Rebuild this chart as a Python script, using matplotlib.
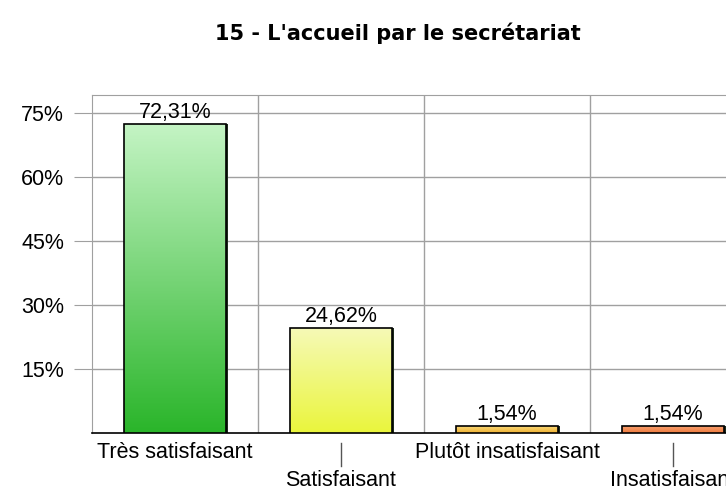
import numpy as np
import matplotlib.pyplot as plt
from matplotlib.colors import LinearSegmentedColormap
from matplotlib.patches import Rectangle

# data
categories = ['Très satisfaisant', 'Satisfaisant', 'Plutôt insatisfaisant', 'Insatisfaisant']
values = [72.31, 24.62, 1.54, 1.54]
labels = ['72,31%', '24,62%', '1,54%', '1,54%']
yticks = [15, 30, 45, 60, 75]
# gradient colours (top, bottom) for each bar
grad = [('#c4f4c4', '#2ab52a'), ('#f6fab8', '#eaf53c'),
        ('#f8d878', '#f0b030'), ('#f8a070', '#ee7a3c')]

W, H = 726, 492
FS = 15.5
fig = plt.figure(figsize=(W / 100, H / 100), dpi=100)
# plot area: x from 92 px, y from 95 to 433 px; right side runs off the figure
ax = fig.add_axes([92 / W, 1 - 433 / H, (756 - 92) / W, (433 - 95) / H])
ax.set_xlim(-0.5, 3.5)
ax.set_ylim(0, 79.2)

grid_c = '#a0a0a0'
for yv in yticks:
    ax.axhline(yv, color=grid_c, lw=1, zorder=0)
for xv in [0.5, 1.5, 2.5]:
    ax.axvline(xv, color=grid_c, lw=1, zorder=0)
for s in ['left', 'top', 'right']:
    ax.spines[s].set_color(grid_c)
ax.spines['bottom'].set_color('black')
ax.spines['bottom'].set_linewidth(1.2)

ax.set_yticks(yticks)
ax.set_yticklabels(['%d%%' % v for v in yticks], fontsize=FS, family='Liberation Sans')
ax.tick_params(axis='y', length=13, color=grid_c, pad=7)
ax.set_xticks([])

bw = 0.61
for i, (v, (ct, cb)) in enumerate(zip(values, grad)):
    cmap = LinearSegmentedColormap.from_list('g%d' % i, [cb, ct])
    x0 = i - bw / 2
    # dark shadow on the right side
    ax.add_patch(Rectangle((x0 + 0.012, 0), bw, v, facecolor='#1c2a1c', edgecolor='none', zorder=2))
    img = ax.imshow(np.linspace(0, 1, 256).reshape(-1, 1), cmap=cmap, origin='lower',
                    extent=[x0, x0 + bw, 0, v], aspect='auto', zorder=3)
    rect = Rectangle((x0, 0), bw, v, facecolor='none', edgecolor='black', lw=1.2, zorder=4)
    ax.add_patch(rect)
    img.set_clip_path(rect)
    ax.text(i, v + 0.3, labels[i], ha='center', va='bottom', fontsize=FS, family='Liberation Sans')

# category labels, alternating rows
for i, c in enumerate(categories):
    xf = ax.transData.transform((i, 0))[0] / W
    if i % 2 == 0:
        fig.text(xf, 1 - 452 / H, c, ha='center', va='center', fontsize=FS, family='Liberation Sans')
    else:
        fig.add_artist(plt.Line2D([xf, xf], [1 - 443 / H, 1 - 466 / H], color='#555555', lw=1))
        fig.text(xf, 1 - 481 / H, c, ha='center', va='center', fontsize=FS, family='Liberation Sans')

fig.text(398 / W, 1 - 33 / H, "15 - L'accueil par le secrétariat", ha='center', va='center',
         fontsize=15, fontweight='bold', family='DejaVu Sans')

fig.savefig('out.png', dpi=100)
